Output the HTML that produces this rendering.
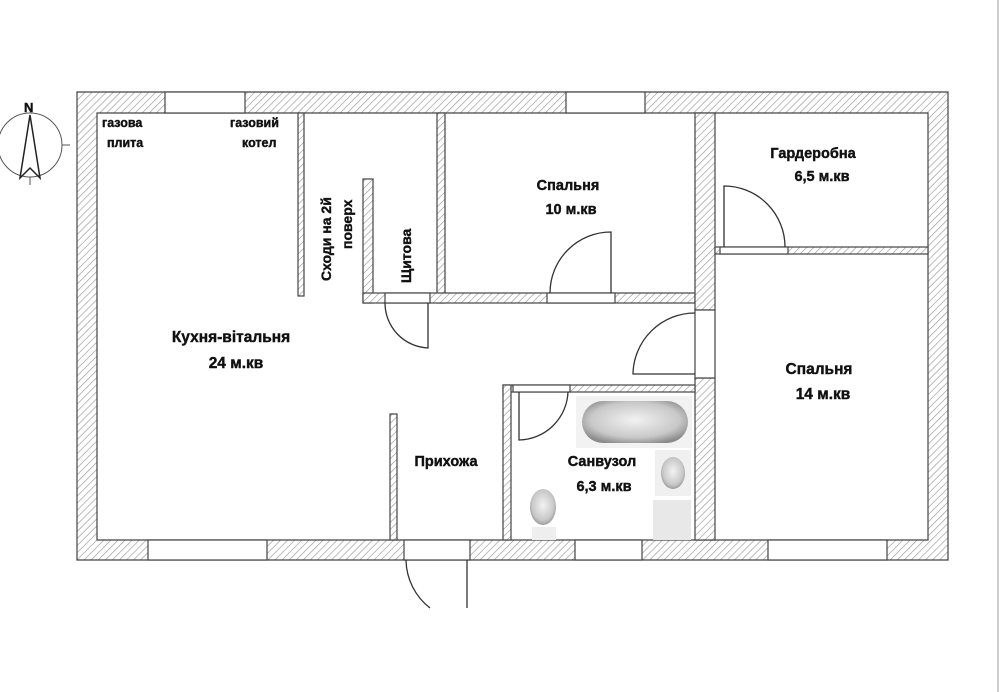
<!DOCTYPE html>
<html><head><meta charset="utf-8"><style>
html,body{margin:0;padding:0;background:#fff;}
svg{display:block;}
text{font-family:"Liberation Sans",Arial,sans-serif;font-weight:bold;fill:#111;stroke:#111;stroke-width:0.4;}
</style></head><body>
<svg width="1000" height="692" viewBox="0 0 1000 692" xmlns="http://www.w3.org/2000/svg">
<defs>
<pattern id="h" width="5" height="5" patternUnits="userSpaceOnUse" patternTransform="rotate(45)">
<rect width="5" height="5" fill="#fff"/><line x1="0" y1="0" x2="0" y2="5" stroke="#999" stroke-width="1.3"/>
</pattern>
<radialGradient id="g" cx="50%" cy="45%" r="60%"><stop offset="0" stop-color="#f2f2f2"/><stop offset="0.7" stop-color="#c8c8c8"/><stop offset="1" stop-color="#8a8a8a"/></radialGradient>
</defs>
<rect width="1000" height="692" fill="#fff"/>
<line x1="998" y1="0" x2="998" y2="692" stroke="#ccc" stroke-width="2"/>
<g fill="url(#h)" stroke="#444" stroke-width="1.2">
<path fill-rule="evenodd" d="M77 92 H948 V560 H77 Z M97 113 V540 H928 V113 Z"/>
<rect x="298" y="113" width="6" height="183"/>
<rect x="437" y="113" width="8" height="190"/>
<rect x="363" y="179" width="10" height="124"/>
<rect x="363" y="293" width="332" height="10"/>
<rect x="695" y="113" width="20" height="197"/>
<rect x="695" y="378" width="20" height="162"/>
<rect x="715" y="247" width="213" height="7"/>
<rect x="503" y="385" width="192" height="7"/>
<rect x="503" y="385" width="8" height="155"/>
<rect x="390" y="414" width="7" height="126"/>
</g>
<g fill="#fff" stroke="#444" stroke-width="1.2">
<rect x="165" y="92" width="80" height="21"/>
<rect x="566" y="92" width="79" height="21"/>
<rect x="148" y="540" width="119" height="20"/>
<rect x="404" y="540" width="66" height="20"/>
<rect x="575" y="540" width="67" height="20"/>
<rect x="768" y="540" width="119" height="20"/>
<rect x="385" y="293" width="45" height="10"/>
<rect x="547" y="293" width="68" height="10"/>
<rect x="720" y="247" width="68" height="7"/>
<rect x="513" y="385" width="57" height="7"/>
<rect x="695" y="310" width="20" height="68"/>
</g>
<!-- doors -->
<g fill="none" stroke="#333" stroke-width="1.3">
<path d="M428 303 V348 A45 45 0 0 1 385 303"/>
<path d="M611 293 V232 A61 61 0 0 0 550 293"/>
<path d="M724 247 V186 A61 61 0 0 1 785 247"/>
<path d="M695 374 H633 A62 62 0 0 1 695 313"/>
<path d="M519 392 V440 A50 50 0 0 0 568 392"/>
<path d="M467 560 V608"/>
<path d="M406 560 A62 62 0 0 0 430 608"/>
</g>
<!-- fixtures -->
<rect x="576" y="396" width="116" height="52" fill="#f2f2f2"/>
<rect x="582" y="401" width="106" height="42" rx="21" fill="url(#g)"/>
<rect x="655" y="450" width="36" height="46" fill="#f0f0f0"/>
<ellipse cx="673" cy="473" rx="12" ry="16" fill="url(#g)"/>
<rect x="653" y="500" width="38" height="40" fill="#e8e8e8"/>
<ellipse cx="543" cy="507" rx="13" ry="18" fill="url(#g)"/>
<rect x="532" y="527" width="24" height="13" fill="#eee"/>
<!-- compass -->
<g stroke="#555" fill="none" stroke-width="1">
<circle cx="30" cy="145" r="32"/>
<line x1="62" y1="145" x2="70" y2="145"/>
<line x1="30" y1="177" x2="30" y2="185"/>
<path d="M30 115 L20 178 L30 168 L40 178 Z" stroke="#222" stroke-width="1.5"/>
</g>
<text x="24" y="112" font-size="13" font-weight="normal">N</text>
<!-- labels -->
<text x="102" y="127" font-size="12.5">газова</text>
<text x="107" y="147" font-size="12.5">плита</text>
<text x="230" y="127" font-size="12.5">газовий</text>
<text x="242" y="147" font-size="12.5">котел</text>
<text font-size="14" transform="translate(331,281) rotate(-90)">Сходи на 2й</text>
<text font-size="14" transform="translate(352,249) rotate(-90)">поверх</text>
<text font-size="14" transform="translate(411,283) rotate(-90)">Щитова</text>
<text x="568" y="190" font-size="14.5" text-anchor="middle">Спальня</text>
<text x="571" y="214" font-size="14.5" text-anchor="middle">10 м.кв</text>
<text x="813" y="158" font-size="14.5" text-anchor="middle">Гардеробна</text>
<text x="822" y="181" font-size="14.5" text-anchor="middle">6,5 м.кв</text>
<text x="819" y="374" font-size="15.5" text-anchor="middle">Спальня</text>
<text x="823" y="399" font-size="15.5" text-anchor="middle">14 м.кв</text>
<text x="231" y="342" font-size="15.5" text-anchor="middle">Кухня-вітальня</text>
<text x="236" y="368" font-size="15.5" text-anchor="middle">24 м.кв</text>
<text x="446" y="466" font-size="14.5" text-anchor="middle">Прихожа</text>
<text x="602" y="466" font-size="14.5" text-anchor="middle">Санвузол</text>
<text x="604" y="491" font-size="14.5" text-anchor="middle">6,3 м.кв</text>
</svg>
</body></html>
